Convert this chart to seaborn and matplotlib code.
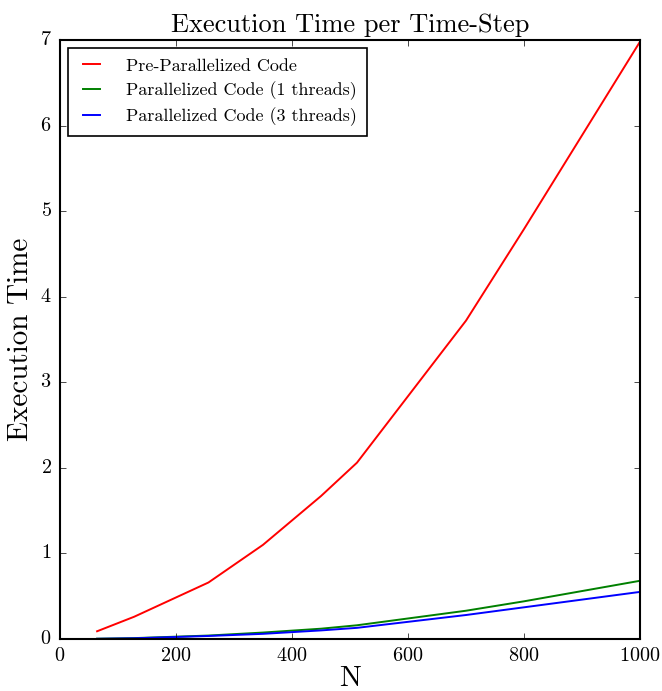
import numpy as np
import pandas as pd
import matplotlib
matplotlib.use('Agg')
import matplotlib.pyplot as plt
import seaborn as sns

# ===========================
# DATA
# ===========================
N_VALUES = [64, 128, 256, 350, 450, 512, 700, 800, 1000]
PRE_PARALLEL = [0.09, 0.26, 0.66, 1.10, 1.67, 2.06, 3.72, 4.79, 6.98]
PAR_1_THREAD = [0.003, 0.01, 0.04, 0.075, 0.12, 0.16, 0.33, 0.44, 0.68]
PAR_3_THREADS = [0.002, 0.008, 0.035, 0.06, 0.10, 0.13, 0.28, 0.37, 0.55]

SERIES_NAMES = ['Pre-Parallelized Code',
                'Parallelized Code (1 threads)',
                'Parallelized Code (3 threads)']
COLORS = ['red', 'green', 'blue']

X_TICKS = [0, 200, 400, 600, 800, 1000]
Y_TICKS = [0, 1, 2, 3, 4, 5, 6, 7]

# long-form table for seaborn
df = pd.concat([
    pd.DataFrame({'N': N_VALUES, 'time': vals, 'series': name})
    for name, vals in zip(SERIES_NAMES, [PRE_PARALLEL, PAR_1_THREAD, PAR_3_THREADS])
], ignore_index=True)

# ===========================
# STYLE
# ===========================
plt.style.use('classic')
plt.rcParams['font.family'] = ['cmr10', 'DejaVu Serif']
plt.rcParams['mathtext.fontset'] = 'cm'
plt.rcParams['axes.unicode_minus'] = False
plt.rcParams['axes.formatter.use_mathtext'] = True
plt.rcParams['axes.linewidth'] = 1.5

fig = plt.figure(figsize=(6.62, 6.91), dpi=100, facecolor='white')
ax = fig.add_axes([0.0906, 0.0753, 0.8762, 0.8669])

sns.lineplot(data=df, x='N', y='time', hue='series',
             palette=dict(zip(SERIES_NAMES, COLORS)),
             hue_order=SERIES_NAMES, linewidth=1.4, ax=ax,
             estimator=None, sort=False)

ax.set_xlim(0, 1000)
ax.set_ylim(0, 7)
ax.set_xticks(X_TICKS)
ax.set_yticks(Y_TICKS)
ax.tick_params(direction='in', top=True, right=True, labelsize=14.5, pad=6)

ax.set_title('Execution Time per Time-Step', fontsize=19, pad=6)
ax.set_xlabel('N', fontsize=21, labelpad=0)
ax.set_ylabel('Execution Time', fontsize=21, labelpad=4)

handles, labels = ax.get_legend_handles_labels()
leg = ax.legend(handles, labels, loc='upper left', fontsize=13,
                handlelength=1.5, handletextpad=1.15, frameon=True,
                fancybox=False, borderpad=0.55, borderaxespad=0.45,
                labelspacing=0.42)
leg.get_frame().set_edgecolor('black')
leg.get_frame().set_linewidth(1.2)

fig.savefig('out.png', dpi=100, facecolor='white')
